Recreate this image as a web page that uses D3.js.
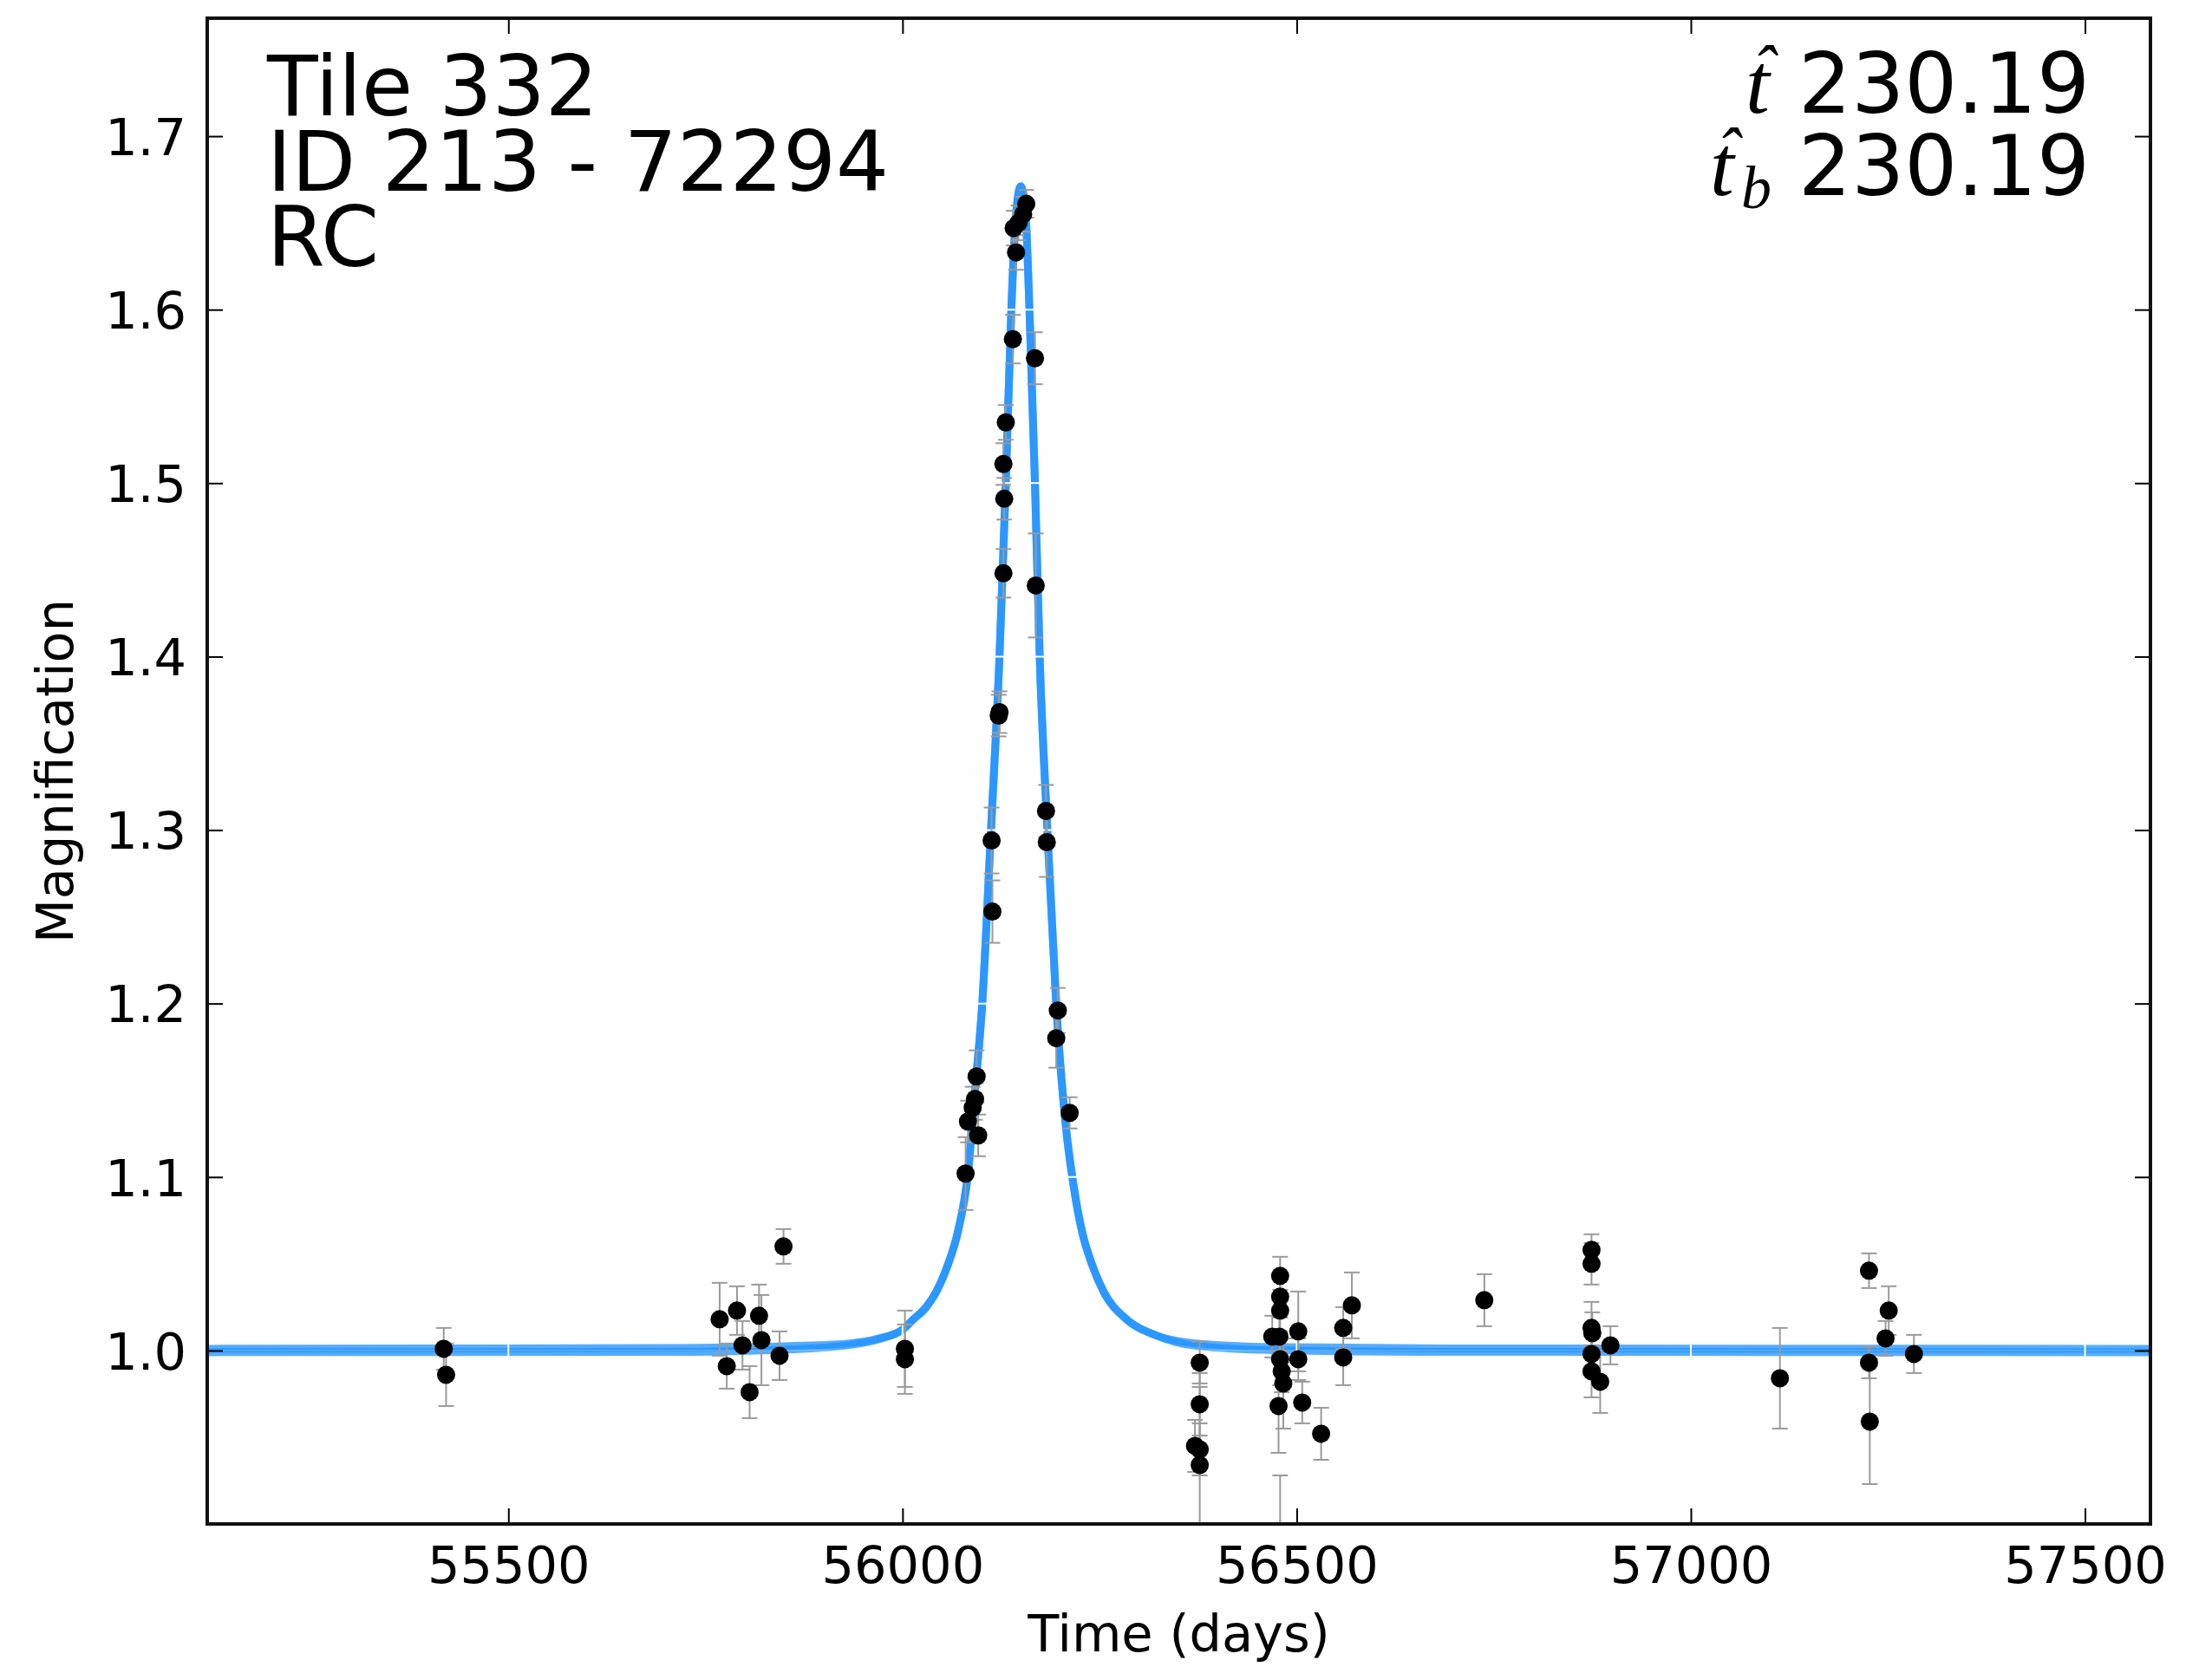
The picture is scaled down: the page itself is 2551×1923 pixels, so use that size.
<!DOCTYPE html>
<html lang="en">
<head>
  <meta charset="UTF-8" />
  <title>Tile 332 - Magnification vs Time</title>
  <script src="https://d3js.org/d3.v7.min.js"></script>
  <style>
    body { margin:0; padding:0; background:#fff; }
    svg { display:block; background:#fff; font-family:"DejaVu Sans", sans-serif; }
    .axis text { font-size:59px; fill:#000; font-family:"DejaVu Sans", sans-serif; }
    .axis line { stroke:#000; stroke-width:2px; }
    .axis path { display:none; }
    .label { font-size:59px; fill:#000; }
    .info { font-size:96px; fill:#000; }
    .math { font-family:"Liberation Serif", serif; font-style:italic; fill:#000; }
  </style>
</head>
<body>
<svg width="2551" height="1923"></svg>

<script>
const obsTime = [
  55418, 55421, 55768, 55777, 55790, 55797, 55806, 55818, 55821, 55844, 55849, 56003, 56003,
  56080, 56083, 56089, 56092, 56094, 56096, 56113, 56114, 56122, 56123, 56128, 56128, 56129,
  56131, 56140, 56144, 56141, 56147, 56153, 56157,
  56168, 56169, 56182, 56183, 56197, 56195, 56212,
  56377, 56377, 56371, 56377, 56377,
  56469, 56479, 56479, 56479, 56478, 56479, 56481, 56483, 56477, 56479,
  56502, 56502, 56507, 56531, 56559, 56559, 56570,
  56738, 56874, 56874, 56874, 56875, 56874, 56874, 56885, 56898,
  57113, 57226, 57226, 57227, 57251, 57247, 57283
];
const obsMag = [
  1.001, 0.986, 1.018, 0.991, 1.023, 1.003, 0.976, 1.020, 1.006, 0.997, 1.060, 1.001, 0.995,
  1.102, 1.132, 1.140, 1.145, 1.158, 1.124, 1.294, 1.253, 1.366, 1.368, 1.448, 1.511, 1.491,
  1.535, 1.583, 1.633, 1.647, 1.650, 1.655, 1.661,
  1.572, 1.441, 1.311, 1.293, 1.196, 1.180, 1.137,
  0.993, 0.969, 0.945, 0.943, 0.934,
  1.008, 1.043, 1.031, 1.023, 1.008, 0.995, 0.988, 0.981, 0.968, 0.860,
  1.011, 0.995, 0.970, 0.952, 1.013, 0.996, 1.026,
  1.029, 1.058, 1.050, 1.013, 1.010, 0.998, 0.988, 0.982, 1.003,
  0.984, 1.046, 0.993, 0.959, 1.023, 1.007, 0.998
];
const obsErr = [
  0.012, 0.018, 0.021, 0.013, 0.014, 0.014, 0.015, 0.018, 0.026, 0.014, 0.010, 0.022, 0.020,
  0.021, 0.012, 0.012, 0.012, 0.015, 0.012, 0.019, 0.018, 0.012, 0.012, 0.014, 0.012, 0.012,
  0.010, 0.014, 0.010, 0.010, 0.010, 0.010, 0.008,
  0.015, 0.030, 0.015, 0.020, 0.013, 0.017, 0.009,
  0.012, 0.018, 0.015, 0.015, 0.045,
  0.012, 0.011, 0.012, 0.012, 0.012, 0.015, 0.012, 0.026, 0.027, 0.068,
  0.023, 0.012, 0.012, 0.015, 0.012, 0.016, 0.019,
  0.015, 0.009, 0.012, 0.015, 0.012, 0.012, 0.015, 0.018, 0.011,
  0.029, 0.010, 0.009, 0.036, 0.014, 0.010, 0.011
];

// the two fitted models (t-hat and t-hat_b), sampled off the drawn curves
const modelTime = [
  55118, 55700, 55850, 55930, 55970, 56000, 56014, 56030, 56043, 56058, 56070, 56083, 56092,
  56101, 56112, 56123, 56131, 56138, 56143, 56147, 56150, 56153, 56157, 56161, 56168, 56174,
  56184, 56195, 56207, 56217, 56228, 56240, 56255, 56284, 56320, 56375, 56470, 56700, 57583
];
const modelMagA = [
  1.001, 1.0015, 1.0025, 1.004, 1.007, 1.012, 1.018, 1.025, 1.034, 1.050, 1.068, 1.102, 1.150,
  1.199, 1.298, 1.400, 1.500, 1.600, 1.648, 1.667, 1.671, 1.667, 1.648, 1.600, 1.500, 1.400,
  1.298, 1.199, 1.130, 1.095, 1.068, 1.050, 1.034, 1.018, 1.009, 1.004, 1.002, 1.0012, 1.001
];
const modelMagB = [
  0.999, 0.9992, 1.0005, 1.003, 1.0065, 1.012, 1.018, 1.025, 1.034, 1.050, 1.068, 1.102, 1.150,
  1.199, 1.298, 1.400, 1.500, 1.600, 1.648, 1.667, 1.671, 1.667, 1.648, 1.600, 1.500, 1.400,
  1.298, 1.199, 1.130, 1.095, 1.068, 1.050, 1.034, 1.018, 1.009, 1.0025, 1.0002, 0.9992, 0.999
];

const xDomain = [55118, 57583];
const yDomain = [0.900, 1.768];
const xTicks = [55500, 56000, 56500, 57000, 57500];
const yTicks = [1.0, 1.1, 1.2, 1.3, 1.4, 1.5, 1.6, 1.7];

const infoLines = ["Tile 332", "ID 213 - 72294", "RC"];
const tHatValue = "230.19";
const tbHatValue = "230.19";

(function(){
  const svg = d3.select("svg");
  const M = { left:239, top:21, right:71, bottom:165 };
  const W = 2551 - M.left - M.right, H = 1923 - M.top - M.bottom;

  const x = d3.scaleLinear().domain(xDomain).range([0, W]);
  const y = d3.scaleLinear().domain(yDomain).range([H, 0]);

  const g = svg.append("g").attr("transform", `translate(${M.left},${M.top})`);

  svg.append("defs").append("clipPath").attr("id","plotclip")
    .append("rect").attr("width", W).attr("height", H);

  const plot = g.append("g").attr("clip-path","url(#plotclip)");

  // model curves, semi-transparent so the overlap reads darker
  const line = d3.line()
    .x((d,i)=>x(modelTime[i]))
    .y(d=>y(d))
    .curve(d3.curveMonotoneX);
  [modelMagA, modelMagB].forEach(arr=>{
    plot.append("path")
      .attr("d", line(arr))
      .attr("fill","none")
      .attr("stroke","#1E90FF")
      .attr("stroke-opacity",0.75)
      .attr("stroke-width",9)
      .attr("stroke-linejoin","round");
  });

  // white grid (only visible where it crosses the curve)
  plot.selectAll(".vgrid").data(xTicks).enter().append("line")
    .attr("x1", d=>x(d)).attr("x2", d=>x(d))
    .attr("y1", 0).attr("y2", H)
    .attr("stroke","#fff").attr("stroke-width",2);
  plot.selectAll(".hgrid").data(yTicks).enter().append("line")
    .attr("y1", d=>y(d)).attr("y2", d=>y(d))
    .attr("x1", 0).attr("x2", W)
    .attr("stroke","#fff")
    .attr("stroke-width", d=>d===1.0 ? 1 : 2)
    .attr("stroke-opacity", d=>d===1.0 ? 0.35 : 1);

  // error bars
  const idx = d3.range(obsTime.length);
  const eb = plot.selectAll(".eb").data(idx).enter().append("g").attr("class","eb")
    .attr("stroke","#9a9a9a").attr("stroke-width",2);
  eb.append("line")
    .attr("x1", i=>x(obsTime[i])).attr("x2", i=>x(obsTime[i]))
    .attr("y1", i=>y(obsMag[i]+obsErr[i])).attr("y2", i=>y(obsMag[i]-obsErr[i]));
  eb.append("line")
    .attr("x1", i=>x(obsTime[i])-9).attr("x2", i=>x(obsTime[i])+9)
    .attr("y1", i=>y(obsMag[i]+obsErr[i])).attr("y2", i=>y(obsMag[i]+obsErr[i]));
  eb.append("line")
    .attr("x1", i=>x(obsTime[i])-9).attr("x2", i=>x(obsTime[i])+9)
    .attr("y1", i=>y(obsMag[i]-obsErr[i])).attr("y2", i=>y(obsMag[i]-obsErr[i]));

  // points
  plot.selectAll(".pt").data(idx).enter().append("circle")
    .attr("cx", i=>x(obsTime[i]))
    .attr("cy", i=>y(obsMag[i]))
    .attr("r", 10.5)
    .attr("fill","#000");

  // axes, ticks pointing inward on all four sides
  const TL = 18;
  g.append("g").attr("class","axis").attr("transform",`translate(0,${H})`)
    .call(d3.axisBottom(x).tickValues(xTicks).tickFormat(d3.format("d")).tickSizeInner(-TL).tickSizeOuter(0).tickPadding(26));
  g.append("g").attr("class","axis")
    .call(d3.axisTop(x).tickValues(xTicks).tickFormat("").tickSizeInner(-TL).tickSizeOuter(0));
  g.append("g").attr("class","axis")
    .call(d3.axisLeft(y).tickValues(yTicks).tickFormat(d3.format(".1f")).tickSizeInner(-TL).tickSizeOuter(0).tickPadding(24))
    .selectAll("text").attr("dy","0.36em");
  g.append("g").attr("class","axis").attr("transform",`translate(${W},0)`)
    .call(d3.axisRight(y).tickValues(yTicks).tickFormat("").tickSizeInner(-TL).tickSizeOuter(0));

  // frame
  g.append("rect").attr("width",W).attr("height",H)
    .attr("fill","none").attr("stroke","#111").attr("stroke-width",4);

  // axis labels
  svg.append("text").attr("class","label")
    .attr("x", M.left + W/2).attr("y", 1905)
    .attr("text-anchor","middle").text("Time (days)");
  svg.append("text").attr("class","label")
    .attr("transform",`translate(84,${M.top + H/2}) rotate(-90)`)
    .attr("text-anchor","middle").text("Magnification");

  // info text, top left
  svg.selectAll(".infoL").data(infoLines).enter().append("text")
    .attr("class","info")
    .attr("x", 308)
    .attr("y", (d,i)=>133 + i*87)
    .text(d=>d);

  // fit values, top right
  svg.append("text").attr("class","info").attr("x",2410).attr("y",130)
    .attr("text-anchor","end").text(tHatValue);
  svg.append("text").attr("class","info").attr("x",2410).attr("y",225)
    .attr("text-anchor","end").text(tbHatValue);

  svg.append("text").attr("class","math").attr("font-size",100)
    .attr("x",2013).attr("y",130).text("t");
  svg.append("text").attr("class","math").attr("font-size",80).attr("font-style","normal")
    .attr("x",2034).attr("y",108).attr("text-anchor","middle").text("ˆ");
  svg.append("text").attr("class","math").attr("font-size",100)
    .attr("x",1972).attr("y",225).text("t");
  svg.append("text").attr("class","math").attr("font-size",70)
    .attr("x",2008).attr("y",240).text("b");
  svg.append("text").attr("class","math").attr("font-size",80).attr("font-style","normal")
    .attr("x",1993).attr("y",203).attr("text-anchor","middle").text("ˆ");
})();
</script>
</body>
</html>
